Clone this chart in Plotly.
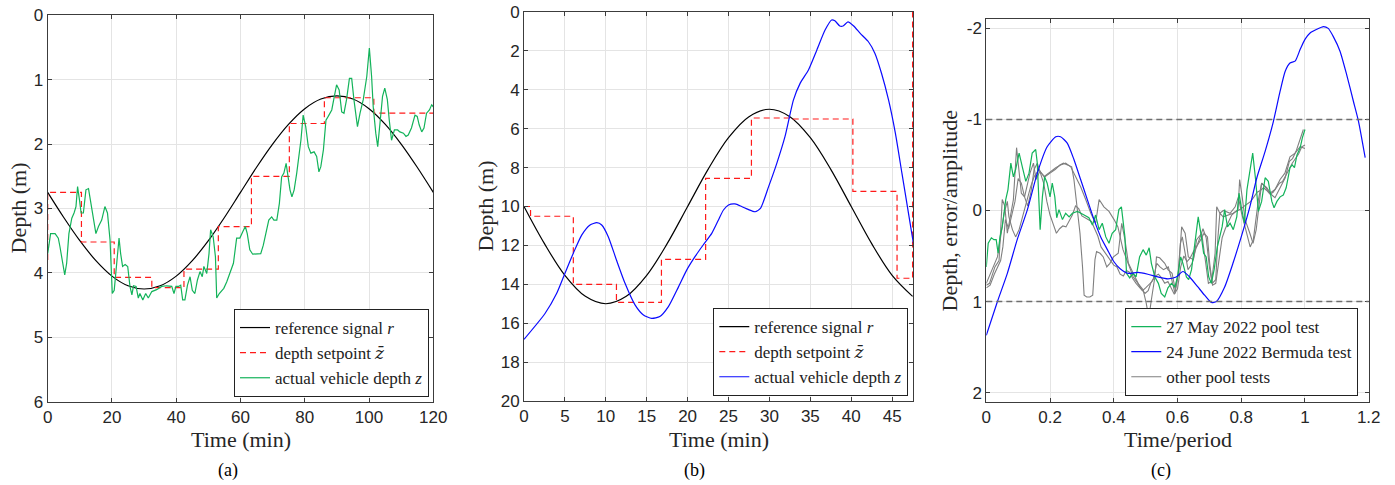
import plotly.graph_objects as go

# ---------------- Panel (a) data ----------------
ref_a_t = [0, 5, 10, 15, 20, 25, 30, 35, 40, 45, 50, 55, 60, 65, 70, 75, 80, 85, 90, 95, 100, 105, 110, 115, 120]
ref_a_d = [2.75, 3.14, 3.50, 3.81, 4.05, 4.20, 4.25, 4.20, 4.05, 3.81, 3.50, 3.14, 2.75, 2.36, 2.00, 1.69, 1.45, 1.30, 1.25, 1.30, 1.45, 1.69, 2.00, 2.36, 2.75]

set_a_t = [0, 0, 10.5, 20.7, 32.4, 42.4, 53.1, 63.4, 75.2, 86.1, 101.5, 120]
set_a_d = [3.80, 2.75, 3.52, 4.07, 4.23, 3.94, 3.28, 2.50, 1.68, 1.28, 1.52, 1.52]

act_a = [
    (0, 3.70), (0.4, 3.54), (0.9, 3.39), (2.3, 3.39), (3.3, 3.46), (3.8, 3.59), (4.7, 3.90), (5.3, 4.03),
    (5.9, 3.85), (6.6, 3.39), (7.5, 3.15), (8.2, 3.07), (8.8, 2.97), (9.3, 2.66), (9.9, 2.87), (10.4, 3.07),
    (11.1, 3.07), (11.9, 2.71), (12.7, 2.69), (13.4, 2.92), (14.2, 3.18), (15.0, 3.39), (15.8, 3.28),
    (16.8, 3.18), (17.8, 2.97), (18.6, 3.07), (19.4, 3.49), (20.1, 4.32), (20.7, 4.27), (21.5, 3.85),
    (22.2, 3.46), (22.7, 3.70), (23.3, 3.90), (24.1, 3.87), (24.9, 3.90), (25.6, 4.21), (26.2, 4.34),
    (26.7, 4.20), (27.5, 4.21), (28.2, 4.39), (28.7, 4.32), (29.6, 4.42), (30.5, 4.32), (31.3, 4.39),
    (32.4, 4.29), (33.9, 4.26), (35.5, 4.21), (37.0, 4.20), (38.6, 4.21), (39.3, 4.32), (39.9, 4.21),
    (40.7, 4.21), (41.4, 4.19), (42.0, 4.42), (42.7, 4.42), (43.5, 4.19), (44.3, 4.06), (45.0, 4.27),
    (45.8, 4.32), (46.6, 4.11), (47.4, 3.98), (48.1, 4.06), (48.6, 3.90), (49.5, 4.01), (50.2, 3.70),
    (50.7, 3.33), (51.5, 3.44), (52.2, 3.75), (52.6, 4.39), (53.4, 4.32), (54.1, 4.27), (54.8, 4.24),
    (55.7, 4.14), (56.7, 4.01), (57.8, 3.85), (58.8, 3.46), (59.8, 3.46), (60.7, 3.36), (61.5, 3.28),
    (62.1, 3.39), (62.9, 3.64), (63.8, 3.71), (65.0, 3.70), (66.3, 3.70), (67.1, 3.57), (67.9, 3.39),
    (68.8, 3.18), (69.7, 3.13), (70.4, 3.18), (71.3, 3.18), (72.1, 2.92), (72.8, 2.51), (73.5, 2.45),
    (74.2, 2.30), (74.7, 2.51), (75.4, 2.71), (76.0, 2.82), (76.7, 2.71), (77.5, 2.45), (78.2, 2.19),
    (78.8, 1.94), (79.5, 1.55), (80.3, 1.73), (81.1, 2.04), (81.9, 2.14), (82.9, 2.12), (83.7, 2.19),
    (84.4, 2.43), (85.0, 2.35), (85.8, 2.09), (86.6, 1.63), (87.3, 1.57), (88.4, 1.47), (89.2, 1.26),
    (89.9, 1.08), (90.7, 1.16), (91.5, 1.50), (92.2, 1.52), (93.0, 1.31), (93.9, 0.98), (94.6, 0.98),
    (95.3, 1.31), (96.4, 1.73), (97.2, 1.52), (98.2, 1.31), (99.3, 0.95), (100.1, 0.51), (100.8, 0.95),
    (101.3, 1.42), (102.1, 1.83), (102.7, 2.04), (103.4, 1.68), (104.2, 1.26), (104.9, 1.13), (105.7, 1.31),
    (106.3, 1.63), (107.0, 1.94), (107.9, 1.78), (108.9, 1.78), (109.6, 1.81), (110.7, 1.83), (111.5, 1.88),
    (112.2, 1.86), (113.2, 1.75), (114.3, 1.55), (115.0, 1.57), (115.6, 1.70), (116.4, 1.81), (117.1, 1.75),
    (117.9, 1.52), (118.8, 1.47), (119.5, 1.39), (120, 1.42),
]

# ---------------- Panel (b) data ----------------
ref_b_t = [0, 2.5, 5, 7.5, 10, 12.5, 15, 17.5, 20, 22.5, 25, 27.5, 30, 32.5, 35, 37.5, 40, 42.5, 45, 47.5]
ref_b_d = [10.0, 11.91, 13.54, 14.62, 15.0, 14.62, 13.54, 11.91, 10.0, 8.09, 6.46, 5.38, 5.0, 5.38, 6.46, 8.09, 10.0, 11.91, 13.54, 14.62]

set_b_t = [0, 0.8, 6.03, 11.3, 16.8, 22.2, 27.8, 32.7, 40.2, 45.6, 47.5]
set_b_d = [10.0, 10.5, 14.0, 14.93, 12.72, 8.55, 5.45, 5.50, 9.22, 13.69, 0.0]

act_b = [
    (0, 16.83), (2.57, 15.5), (4.0, 14.46), (5.0, 13.44), (6.03, 12.4), (7.05, 11.47), (8.07, 10.95),
    (8.9, 10.83), (9.5, 10.95), (10.3, 11.55), (11.3, 12.75), (12.35, 13.95), (13.57, 15.06), (14.6, 15.58),
    (15.6, 15.75), (16.6, 15.66), (17.65, 15.15), (18.9, 14.12), (19.9, 13.26), (20.9, 12.58), (21.9, 11.98),
    (22.95, 11.38), (23.77, 10.69), (24.38, 10.18), (25.0, 9.92), (25.8, 9.87), (26.6, 10.0), (27.4, 10.15),
    (28.25, 10.27), (28.9, 10.1), (29.9, 8.98), (30.9, 7.78), (31.9, 6.41), (32.94, 4.52), (33.75, 3.67),
    (34.77, 2.98), (35.8, 1.95), (36.8, 0.93), (37.6, 0.41), (38.0, 0.45), (38.6, 0.72), (39.0, 0.72),
    (39.6, 0.51), (40.3, 0.72), (41.1, 1.1), (42.1, 1.53), (42.9, 2.13), (43.7, 3.15), (44.56, 4.52),
    (45.4, 6.24), (46.2, 8.3), (47.0, 10.35), (47.6, 11.9),
]

# ---------------- Panel (c) data ----------------
pool_c = [
    (0, 0.62), (0.006, 0.36), (0.016, 0.30), (0.024, 0.32), (0.031, 0.32), (0.037, 0.47), (0.043, 0.29),
    (0.05, 0.18), (0.061, -0.12), (0.068, -0.23), (0.077, -0.52), (0.085, -0.37), (0.092, -0.45),
    (0.103, -0.63), (0.113, -0.48), (0.124, -0.32), (0.134, -0.41), (0.144, -0.63), (0.155, -0.67),
    (0.16, -0.52), (0.169, 0.21), (0.176, -0.15), (0.183, -0.37), (0.191, -0.30), (0.20, -0.15),
    (0.207, -0.30), (0.215, -0.15), (0.221, 0.08), (0.228, -0.01), (0.239, 0.10), (0.249, 0.03),
    (0.26, 0.07), (0.27, 0.03), (0.286, 0.01), (0.307, 0.05), (0.322, 0.08), (0.333, 0.16), (0.343, 0.05),
    (0.354, 0.21), (0.364, 0.14), (0.375, 0.29), (0.385, 0.36), (0.395, 0.25), (0.406, 0.21), (0.416, -0.01),
    (0.424, -0.04), (0.435, 0.29), (0.44, 0.69), (0.45, 0.74), (0.46, 0.69), (0.47, 0.73), (0.481, 0.51),
    (0.492, 0.43), (0.502, 0.49), (0.511, 0.41), (0.518, 0.58), (0.529, 0.73), (0.54, 0.80), (0.549, 0.91),
    (0.56, 0.95), (0.57, 0.85), (0.581, 0.80), (0.592, 0.84), (0.60, 0.73), (0.61, 0.51), (0.617, 0.58),
    (0.628, 0.73), (0.635, 0.76), (0.644, 0.65), (0.654, 0.40), (0.665, 0.07), (0.675, 0.29), (0.682, 0.47),
    (0.69, 0.51), (0.698, 0.73), (0.706, 0.80), (0.715, 0.65), (0.725, 0.40), (0.733, 0.29), (0.74, 0.18),
    (0.748, -0.01), (0.757, 0.18), (0.765, 0.14), (0.775, 0.21), (0.786, 0.07), (0.793, -0.19), (0.80, -0.04),
    (0.81, 0.14), (0.818, -0.23), (0.829, -0.48), (0.836, -0.63), (0.845, -0.34), (0.854, 0.01),
    (0.864, -0.10), (0.875, -0.36), (0.885, -0.32), (0.896, -0.10), (0.903, -0.03), (0.912, -0.10),
    (0.922, -0.15), (0.932, -0.17), (0.941, -0.25), (0.948, -0.36), (0.953, -0.47), (0.96, -0.50),
    (0.967, -0.47), (0.975, -0.61), (0.985, -0.69), (0.992, -0.80), (1.0, -0.89),
]

bermuda_c = [
    (0.0, 1.37), (0.035, 1.0), (0.066, 0.69), (0.097, 0.32), (0.129, -0.01), (0.16, -0.41), (0.191, -0.70),
    (0.218, -0.81), (0.233, -0.81), (0.254, -0.74), (0.275, -0.56), (0.296, -0.34), (0.317, -0.12),
    (0.338, 0.10), (0.359, 0.29), (0.38, 0.43), (0.40, 0.56), (0.42, 0.64), (0.445, 0.69), (0.476, 0.68),
    (0.507, 0.70), (0.539, 0.73), (0.570, 0.75), (0.596, 0.73), (0.617, 0.67), (0.638, 0.73), (0.664, 0.84),
    (0.685, 0.93), (0.706, 1.01), (0.722, 1.0), (0.748, 0.84), (0.774, 0.58), (0.80, 0.29), (0.827, -0.04),
    (0.849, -0.36), (0.875, -0.65), (0.901, -0.98), (0.922, -1.31), (0.938, -1.53), (0.953, -1.62),
    (0.969, -1.64), (0.985, -1.77), (1.0, -1.88), (1.016, -1.95), (1.037, -1.99), (1.058, -2.02),
    (1.073, -2.0), (1.089, -1.91), (1.11, -1.75), (1.131, -1.49), (1.152, -1.20), (1.168, -0.98),
    (1.189, -0.58),
]

other_c1 = [
    (0, 0.82), (0.01, 0.80), (0.027, 0.62), (0.04, 0.55), (0.05, -0.12), (0.058, -0.05), (0.066, 0.25),
    (0.075, 0.05), (0.085, -0.12), (0.095, -0.69), (0.103, -0.45), (0.11, -0.19), (0.12, -0.15),
    (0.127, -0.26), (0.137, -0.41), (0.148, -0.52), (0.156, -0.34), (0.168, -0.43), (0.184, -0.37),
    (0.2, -0.41), (0.216, -0.45), (0.231, -0.50), (0.242, -0.52), (0.255, -0.50), (0.268, -0.48),
    (0.275, -0.34), (0.284, -0.04), (0.294, 0.25), (0.302, 0.62), (0.307, 0.93), (0.315, 0.95),
    (0.325, 0.95), (0.334, 0.93), (0.341, 0.54), (0.346, 0.45), (0.357, 0.47), (0.367, 0.51), (0.378, 0.62),
    (0.388, 0.58), (0.399, 0.51), (0.414, 0.47), (0.425, 0.14), (0.435, 0.32), (0.446, 0.58), (0.461, 0.69),
    (0.482, 0.84), (0.498, 0.91), (0.508, 0.88), (0.516, 0.80), (0.524, 0.75), (0.535, 0.58), (0.545, 0.62),
    (0.556, 0.65), (0.571, 0.62), (0.582, 0.76), (0.592, 0.91), (0.603, 0.69), (0.613, 0.18), (0.624, 0.25),
    (0.634, 0.51), (0.65, 0.54), (0.66, 0.32), (0.676, 0.25), (0.686, 0.54), (0.697, 0.80), (0.707, 0.78),
    (0.718, 0.47), (0.723, -0.04), (0.733, 0.03), (0.744, 0.0), (0.765, 0.03), (0.781, -0.04), (0.791, -0.15),
    (0.801, 0.03), (0.817, 0.25), (0.828, 0.40), (0.838, 0.32), (0.854, -0.12), (0.864, -0.30), (0.875, -0.26),
    (0.89, -0.19), (0.906, -0.23), (0.922, -0.34), (0.937, -0.41), (0.953, -0.59), (0.969, -0.63),
    (0.985, -0.70), (1.0, -0.68),
]

other_c2 = [
    (0, 0.80), (0.019, 0.65), (0.035, 0.51), (0.045, 0.29), (0.056, 0.03), (0.066, -0.10), (0.071, 0.07),
    (0.082, 0.21), (0.092, 0.29), (0.103, 0.21), (0.113, 0.07), (0.129, -0.15), (0.139, -0.26), (0.15, -0.37),
    (0.165, -0.45), (0.181, -0.37), (0.202, -0.43), (0.218, -0.47), (0.233, -0.50), (0.249, -0.52),
    (0.265, -0.48), (0.281, -0.37), (0.296, -0.26), (0.312, -0.12), (0.328, 0.03), (0.343, 0.14),
    (0.354, -0.12), (0.369, -0.04), (0.385, 0.01), (0.401, 0.10), (0.413, 0.18), (0.429, 0.43), (0.445, 0.58),
    (0.461, 0.73), (0.476, 0.80), (0.492, 0.87), (0.502, 1.02), (0.51, 1.18), (0.518, 0.98), (0.529, 0.73),
    (0.534, 0.51), (0.544, 0.52), (0.56, 0.58), (0.57, 0.65), (0.583, 0.69), (0.593, 0.87), (0.602, 0.69),
    (0.609, 0.36), (0.615, 0.29), (0.623, 0.47), (0.633, 0.65), (0.646, 0.58), (0.659, 0.40), (0.673, 0.32),
    (0.683, 0.25), (0.694, 0.29), (0.701, 0.58), (0.709, 0.80), (0.72, 0.76), (0.727, 0.29), (0.733, 0.03),
    (0.743, 0.07), (0.759, 0.05), (0.775, 0.03), (0.79, -0.01), (0.795, -0.34), (0.803, -0.15), (0.812, 0.10),
    (0.827, 0.25), (0.837, 0.36), (0.847, 0.21), (0.864, -0.30), (0.88, -0.25), (0.896, -0.17), (0.906, -0.14),
    (0.922, -0.25), (0.938, -0.36), (0.951, -0.54), (0.961, -0.57), (0.972, -0.65), (0.982, -0.76),
    (0.995, -0.89),
]

other_c3 = [
    (0, 0.85), (0.012, 0.82), (0.025, 0.70), (0.035, 0.62), (0.045, 0.55), (0.052, 0.40), (0.06, 0.10),
    (0.07, 0.20), (0.08, 0.05), (0.09, -0.10), (0.1, -0.35), (0.11, -0.30), (0.12, -0.15), (0.13, -0.05),
    (0.14, -0.20), (0.15, -0.45), (0.16, -0.52), (0.17, -0.40), (0.18, -0.30), (0.19, -0.10), (0.2, 0.05),
    (0.21, 0.15), (0.22, 0.25), (0.23, 0.20), (0.24, 0.17), (0.25, 0.18), (0.26, 0.12), (0.27, 0.05),
    (0.28, -0.05), (0.29, -0.02), (0.30, 0.06), (0.31, 0.08), (0.32, 0.10), (0.33, 0.12), (0.34, 0.20),
    (0.35, 0.28), (0.36, 0.40), (0.37, 0.45), (0.38, 0.50), (0.39, 0.55), (0.40, 0.60), (0.41, 0.62),
    (0.42, 0.70), (0.43, 0.72), (0.44, 0.66), (0.45, 0.68), (0.46, 0.75), (0.47, 0.80), (0.48, 0.84),
    (0.49, 0.88), (0.50, 0.85), (0.51, 0.82), (0.52, 0.78), (0.53, 0.72), (0.54, 0.70), (0.55, 0.74),
    (0.56, 0.80), (0.57, 0.78), (0.58, 0.85), (0.59, 0.92), (0.60, 0.86), (0.61, 0.62), (0.62, 0.50),
    (0.63, 0.56), (0.64, 0.52), (0.65, 0.45), (0.66, 0.40), (0.67, 0.30), (0.68, 0.20), (0.69, 0.30),
    (0.70, 0.62), (0.71, 0.82), (0.72, 0.80), (0.73, 0.55), (0.74, 0.30), (0.75, 0.20), (0.76, 0.12),
    (0.77, 0.05), (0.78, 0.02), (0.79, 0.0), (0.80, -0.02), (0.81, -0.05), (0.82, -0.08), (0.83, -0.10),
    (0.84, -0.15), (0.85, -0.20), (0.86, -0.22), (0.87, -0.25), (0.88, -0.22), (0.89, -0.18), (0.90, -0.20),
    (0.91, -0.25), (0.92, -0.30), (0.93, -0.32), (0.94, -0.38), (0.95, -0.45), (0.96, -0.52), (0.97, -0.57),
    (0.98, -0.62), (0.99, -0.70), (1.0, -0.72),
]

bounds_c = [-1, 1]

# tick labels
ticks_a_x = [0, 20, 40, 60, 80, 100, 120]
ticks_a_y = [0, 1, 2, 3, 4, 5, 6]
ticks_b_x = [0, 5, 10, 15, 20, 25, 30, 35, 40, 45]
ticks_b_y = [0, 2, 4, 6, 8, 10, 12, 14, 16, 18, 20]
ticks_c_x = [0, 0.2, 0.4, 0.6, 0.8, 1.0, 1.2]
ticks_c_x_text = ["0", "0.2", "0.4", "0.6", "0.8", "1", "1.2"]
ticks_c_y = [-2, -1, 0, 1, 2]
ticks_c_y_text = ["-2", "-1", "0", "1", "2"]


def unzip(pairs):
    return [p[0] for p in pairs], [p[1] for p in pairs]


# the page body margin is removed (post_script), so the figure fills the 1395x485 window
W, H = 1395, 485
SERIF = "Liberation Serif"
SANS = "Liberation Sans"
GREEN = "#13b35a"
RED = "#ff1a1a"
BLUE = "#0a0aff"
GRAY = "#7f7f7f"
ZBAR = '<span style="font-family:DejaVu Serif"><i>z\u0304</i></span>'


def fx(p):
    return p / W


def fy(p):
    return (H - p) / H


def px_x(a, b):
    return [fx(a), fx(b)]


def px_y(top, bottom):
    return [fy(bottom), fy(top)]


fig = go.Figure()

# (a)
fig.add_trace(go.Scatter(x=ref_a_t, y=ref_a_d, mode="lines", line=dict(color="black", width=1.2, shape="spline"),
                         name="reference signal <i>r</i>", xaxis="x", yaxis="y", legend="legend"))
fig.add_trace(go.Scatter(x=set_a_t, y=set_a_d, mode="lines", line=dict(color=RED, width=1.2, shape="hv", dash="6px,4px"),
                         name="depth setpoint " + ZBAR, xaxis="x", yaxis="y", legend="legend"))
xa, ya = unzip(act_a)
fig.add_trace(go.Scatter(x=xa, y=ya, mode="lines", line=dict(color=GREEN, width=1.2),
                         name="actual vehicle depth <i>z</i>", xaxis="x", yaxis="y", legend="legend"))

# (b)
fig.add_trace(go.Scatter(x=ref_b_t, y=ref_b_d, mode="lines", line=dict(color="black", width=1.2, shape="spline"),
                         name="reference signal <i>r</i>", xaxis="x2", yaxis="y2", legend="legend2"))
fig.add_trace(go.Scatter(x=set_b_t, y=set_b_d, mode="lines", line=dict(color=RED, width=1.2, shape="hv", dash="6px,4px"),
                         name="depth setpoint " + ZBAR, xaxis="x2", yaxis="y2", legend="legend2"))
xb, yb = unzip(act_b)
fig.add_trace(go.Scatter(x=xb, y=yb, mode="lines", line=dict(color=BLUE, width=1.2, shape="spline", smoothing=0.6),
                         name="actual vehicle depth <i>z</i>", xaxis="x2", yaxis="y2", legend="legend2"))

# (c)
for i, g in enumerate([other_c1, other_c2, other_c3]):
    gx, gy = unzip(g)
    fig.add_trace(go.Scatter(x=gx, y=gy, mode="lines", line=dict(color=GRAY, width=1.1),
                             name="other pool tests", showlegend=(i == 0), legendrank=3,
                             xaxis="x3", yaxis="y3", legend="legend3"))
pcx, pcy = unzip(pool_c)
fig.add_trace(go.Scatter(x=pcx, y=pcy, mode="lines", line=dict(color=GREEN, width=1.2),
                         name="27 May 2022 pool test", legendrank=1, xaxis="x3", yaxis="y3", legend="legend3"))
bcx, bcy = unzip(bermuda_c)
fig.add_trace(go.Scatter(x=bcx, y=bcy, mode="lines", line=dict(color=BLUE, width=1.2, shape="spline", smoothing=0.6),
                         name="24 June 2022 Bermuda test", legendrank=2, xaxis="x3", yaxis="y3", legend="legend3"))

for b in bounds_c:
    fig.add_shape(type="line", xref="x3 domain", yref="y3", x0=0, x1=1, y0=b, y1=b,
                  line=dict(color="#6e6e6e", width=1.5, dash="6px,4px"), layer="above")

axis_common = dict(showline=True, linecolor="#3c3c3c", linewidth=1, mirror="allticks", ticks="inside",
                   ticklen=4, tickcolor="#3c3c3c", showgrid=True, gridcolor="#e4e4e4", gridwidth=1,
                   zeroline=False, automargin=False, ticklabeloverflow="allow",
                   tickfont=dict(family=SANS, size=17, color="#262626"))

fig.update_layout(
    template="none",
    width=W, height=H, margin=dict(l=0, r=0, t=0, b=0, pad=0, autoexpand=False),
    paper_bgcolor="white", plot_bgcolor="white",
    xaxis=dict(domain=px_x(47.7, 433.3), range=[0, 120], tickvals=ticks_a_x, anchor="y", **axis_common),
    yaxis=dict(domain=px_y(15.3, 401.7), range=[6, 0], tickvals=ticks_a_y, anchor="x", **axis_common),
    xaxis2=dict(domain=px_x(524, 913), range=[0, 47.55], tickvals=ticks_b_x, anchor="y2", **axis_common),
    yaxis2=dict(domain=px_y(12, 401), range=[20, 0], tickvals=ticks_b_y, anchor="x2", **axis_common),
    xaxis3=dict(domain=px_x(986.3, 1368.7), range=[0, 1.2], tickvals=ticks_c_x, ticktext=ticks_c_x_text,
                anchor="y3", **axis_common),
    yaxis3=dict(domain=px_y(19.3, 401.7), range=[2.1, -2.1], tickvals=ticks_c_y, ticktext=ticks_c_y_text,
                anchor="x3", **axis_common),
    showlegend=True,
)

legend_common = dict(bgcolor="white", bordercolor="#222222", borderwidth=1,
                     font=dict(family=SERIF, size=17, color="#222222"),
                     xanchor="right", yanchor="bottom", xref="paper", yref="paper",
                     itemwidth=30, tracegroupgap=0)
fig.update_layout(
    legend=dict(x=fx(429), y=fy(397), **legend_common),
    legend2=dict(x=fx(908.3), y=fy(396), **legend_common),
    legend3=dict(x=fx(1358.3), y=fy(396), traceorder="normal", **legend_common),
)

anns = []
# y titles
for xpix, ymid, txt in [(18, 208.5, "Depth (m)"), (485, 206.5, "Depth (m)"), (949, 210.5, "Depth, error/amplitude")]:
    anns.append(dict(x=fx(xpix), y=fy(ymid), xref="paper", yref="paper", text=txt, textangle=-90,
                     showarrow=False, xanchor="center", yanchor="middle",
                     font=dict(family=SERIF, size=22, color="#262626")))
# x titles
for xmid, txt in [(240.5, "Time (min)"), (718.5, "Time (min)"), (1177.5, "Time/period")]:
    anns.append(dict(x=fx(xmid), y=fy(439), xref="paper", yref="paper", text=txt, showarrow=False,
                     xanchor="center", yanchor="middle", font=dict(family=SERIF, size=22, color="#262626")))
# captions
for xmid, txt in [(228, "(a)"), (694, "(b)"), (1161, "(c)")]:
    anns.append(dict(x=fx(xmid), y=fy(470), xref="paper", yref="paper", text=txt, showarrow=False,
                     xanchor="center", yanchor="middle", font=dict(family=SERIF, size=18, color="black")))
fig.update_layout(annotations=anns)

fig.write_html(
    "out.html",
    config={"displayModeBar": False},
    post_script="document.body.style.margin='0';document.body.style.overflow='hidden';",
)
